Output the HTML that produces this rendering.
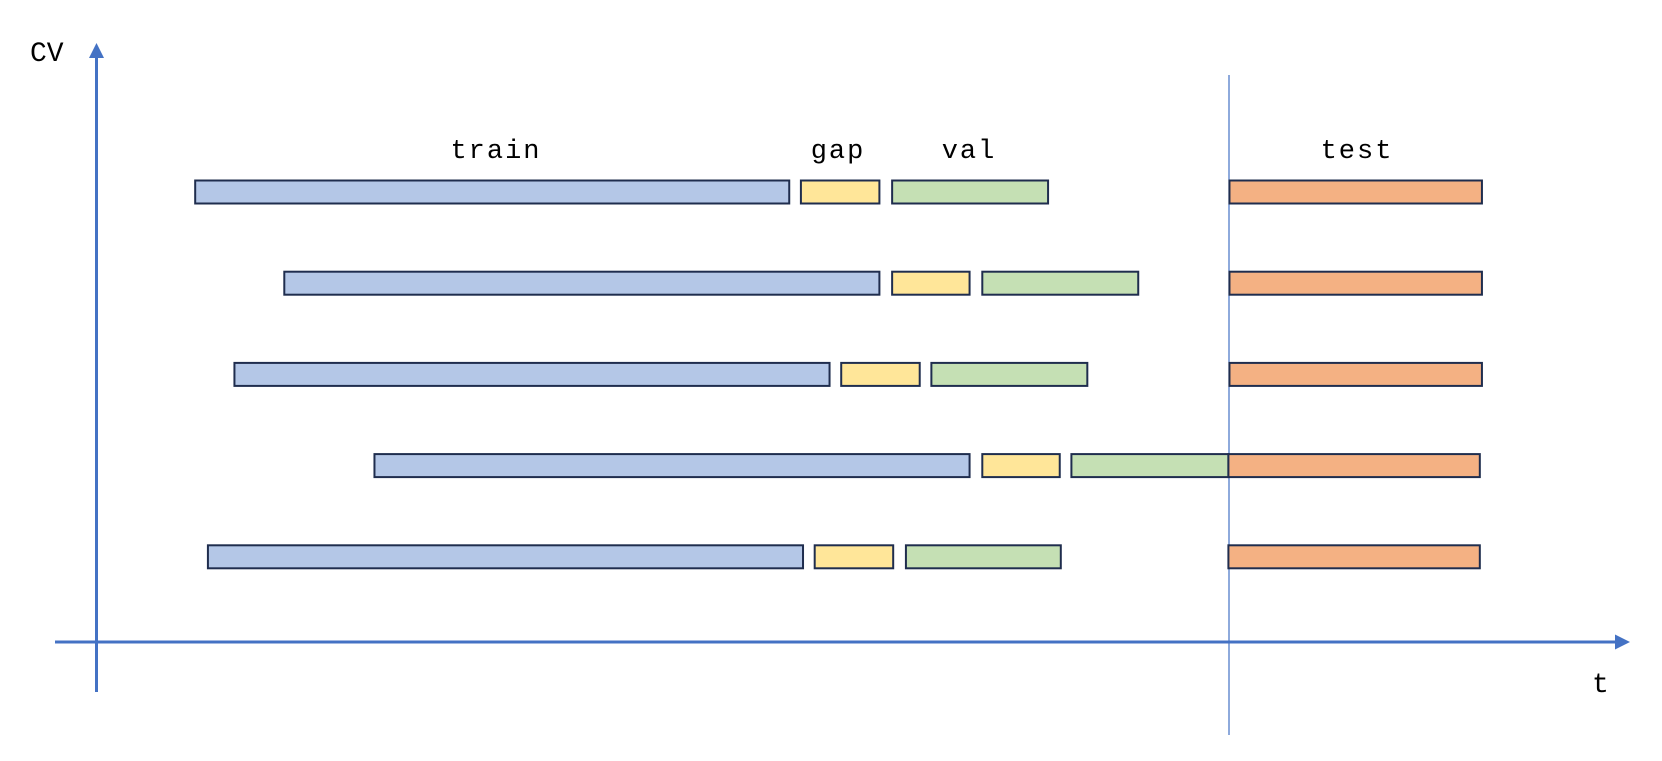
<!DOCTYPE html>
<html><head><meta charset="utf-8"><style>
html,body{margin:0;padding:0;background:#fff;width:1662px;height:761px;overflow:hidden}
svg text{font-family:"Liberation Mono","Noto Sans CJK SC",monospace;fill:#000}
</style></head><body>
<svg id="chart" width="1662" height="761" viewBox="0 0 1662 761" xmlns="http://www.w3.org/2000/svg">
<defs><marker id="arr" viewBox="0 0 10 10" refX="8" refY="5" markerWidth="5" markerHeight="5" orient="auto"><path d="M0,0 L10,5 L0,10 z" fill="#4472C4"/></marker></defs>
<line x1="96.5" y1="692" x2="96.5" y2="46" stroke="#4472C4" stroke-width="3" marker-end="url(#arr)"/>
<line x1="55" y1="642" x2="1627" y2="642" stroke="#4472C4" stroke-width="3" marker-end="url(#arr)"/>
<line x1="1229" y1="75" x2="1229" y2="735" stroke="#4472C4" stroke-width="1.2"/>
<text x="30" y="61" font-size="28">CV</text>
<text x="1592" y="692" font-size="28">t</text>
<text x="496" y="158" font-size="27" text-anchor="middle" letter-spacing="2">train</text>
<text x="838" y="158" font-size="27" text-anchor="middle" letter-spacing="2">gap</text>
<text x="969" y="158" font-size="27" text-anchor="middle" letter-spacing="2">val</text>
<text x="1357" y="158" font-size="27" text-anchor="middle" letter-spacing="2">test</text>
<g id="bars"></g>
</svg>
<script>
const folds = ["fold-1","fold-2","fold-3","fold-4","fold-5"];
const trainStart = [184,268,221,353,196];
const trainEnd = [744,829,782,914,757];
const gapStart = [755,841,793,926,768];
const gapEnd = [829,914,867,999,842];
const valStart = [841,926,878,1010,854];
const valEnd = [988,1073,1025,1158,1000];
const testStart = [1159,1159,1159,1158,1158];
const testEnd = [1397,1397,1397,1395,1395];
const K = 1.0608;
function xs(v){return v*K;}
function ys(i){return 192 + i*91.2;}
const g = document.getElementById('bars');
const NS = "http://www.w3.org/2000/svg";
function bar(s,e,i,fill,name){
  const r = document.createElementNS(NS,'rect');
  r.setAttribute('x',xs(s)); r.setAttribute('width',xs(e)-xs(s));
  r.setAttribute('y',ys(i)-11.5); r.setAttribute('height',23);
  r.setAttribute('fill',fill); r.setAttribute('stroke','#1F2D4E'); r.setAttribute('stroke-width','2');
  
  
  g.appendChild(r);
}
folds.forEach((f,i)=>{
  bar(trainStart[i],trainEnd[i],i,'#B4C7E7',f+'-train-bar');
  bar(gapStart[i],gapEnd[i],i,'#FFE699',f+'-gap-bar');
  bar(valStart[i],valEnd[i],i,'#C5E0B4',f+'-val-bar');
  bar(testStart[i],testEnd[i],i,'#F4B183',f+'-test-bar');
});
</script>
</body></html>
